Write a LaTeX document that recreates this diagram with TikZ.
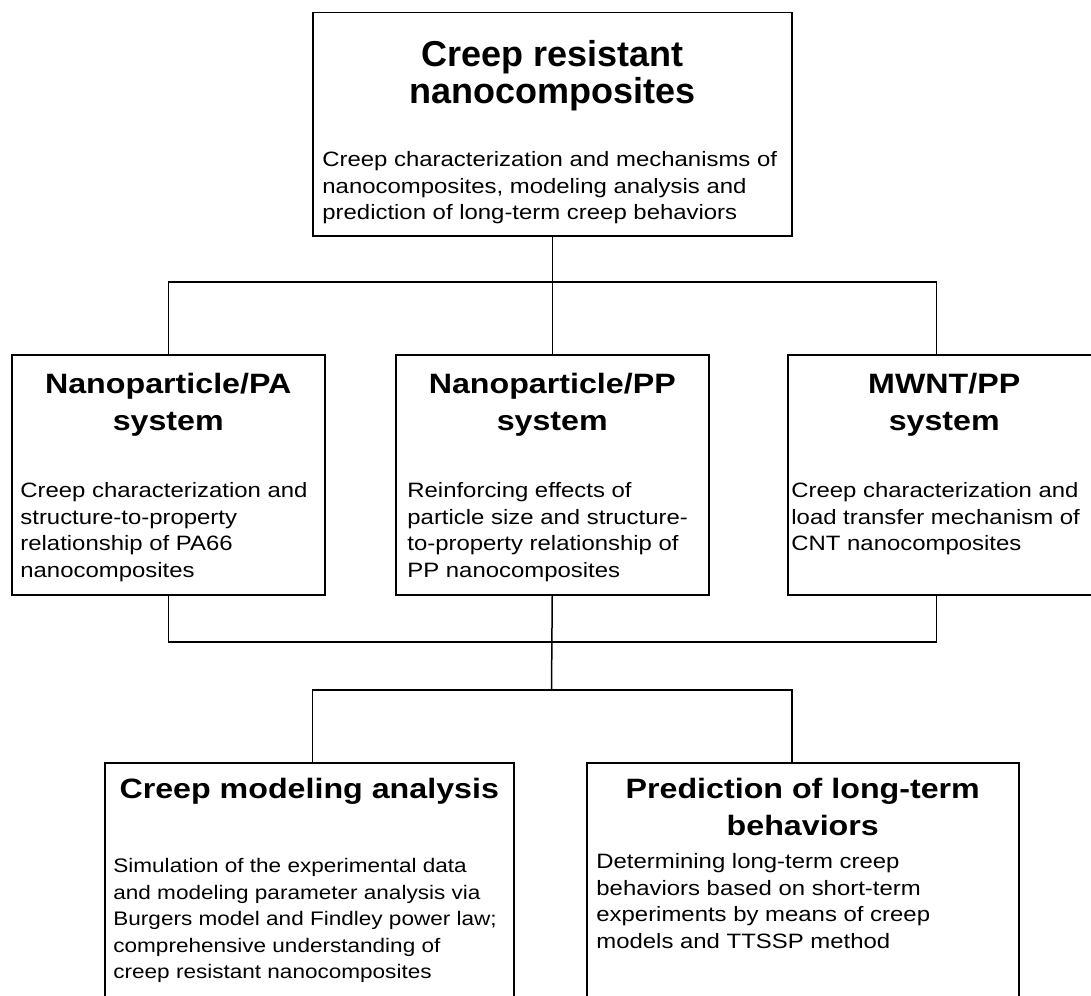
\documentclass[tikz,border=0pt]{standalone}
\usepackage{fontspec}
\setmainfont{Liberation Sans}[FakeStretch=1.15]
\newfontfamily\plainsans{Liberation Sans}
\usetikzlibrary{positioning}
\newcommand{\headfont}{\fontsize{14}{18.5}\selectfont\bfseries}
\newcommand{\bigheadfont}{\plainsans\fontsize{18}{18.7}\selectfont\bfseries}
\newcommand{\bodyfont}{\fontsize{10.4}{13.3}\selectfont}
\newcommand{\smallbodyfont}{\fontsize{9.8}{13.25}\selectfont}
\tikzset{
  box/.style={draw,line width=0.75pt,anchor=north west,inner sep=0pt,
    minimum width=156.5pt,minimum height=120pt},
  head/.style={font=\headfont,align=center,inner sep=0pt},
  bighead/.style={font=\bigheadfont,align=center,inner sep=0pt},
  body/.style={font=\bodyfont,align=left,inner sep=0pt},
  link/.style={line width=0.75pt}
}
\begin{document}
\begin{tikzpicture}[x=0.5pt,y=-0.5pt]
  \useasboundingbox (0,0) rectangle (1091,995);
  \clip (0,0) rectangle (1091,995);
  % boxes
  \node[box,minimum width=239.5pt,minimum height=111.5pt] (top) at (312,12) {};
  \node[box] (pa) at (11,354) {};
  \node[box] (pp) at (395,354) {};
  \node[box] (mw) at (787,354) {};
  \node[box,minimum width=204.5pt,minimum height=140pt] (model) at (104,762) {};
  \node[box,minimum width=216pt,minimum height=140pt] (predict) at (586,762) {};
  % texts
  \node[bighead,below=14pt of top.north] (topT) {Creep resistant\\nanocomposites};
  \node[body,below right=69.5pt and 5pt of top.north west] (topB)
    {Creep characterization and mechanisms of\\nanocomposites, modeling analysis and\\prediction of long-term creep behaviors};
  \node[head,below=9.5pt of pa.north] (paT) {Nanoparticle/PA\\system};
  \node[body,below right=64pt and 4.5pt of pa.north west] (paB)
    {Creep characterization and\\structure-to-property\\relationship of PA66\\nanocomposites};
  \node[head,below=9.5pt of pp.north] (ppT) {Nanoparticle/PP\\system};
  \node[body,below right=64pt and 6pt of pp.north west] (ppB)
    {Reinforcing effects of\\particle size and structure-\\to-property relationship of\\PP nanocomposites};
  \node[head,below=9.5pt of mw.north] (mwT) {MWNT/PP\\system};
  \node[body,below right=64pt and 2pt of mw.north west] (mwB)
    {Creep characterization and\\load transfer mechanism of\\CNT nanocomposites};
  \node[head,below=8pt of model.north] (modelT) {Creep modeling analysis};
  \node[body,font=\smallbodyfont,below right=48pt and 4.5pt of model.north west] (modelB)
    {Simulation of the experimental data\\and modeling parameter analysis via\\Burgers model and Findley power law;\\comprehensive understanding of\\creep resistant nanocomposites};
  \node[head,below=8pt of predict.north] (predictT) {Prediction of long-term\\behaviors};
  \node[body,below right=45.5pt and 5pt of predict.north west] (predictB)
    {Determining long-term creep\\behaviors based on short-term\\experiments by means of creep\\models and TTSSP method};
  % connectors
  \coordinate (bus1) at (551.5,282);
  \coordinate (bus2) at (551.5,642);
  \coordinate (bus3) at (551.5,690);
  \draw[link] (top.south) -- (pp.north);
  \draw[link] (pa.north) |- (bus1) -| ([xshift=-4pt]mw.north);
  \draw[link] (pa.south) |- (bus2) -| ([xshift=-4pt]mw.south);
  \draw[link] (pp.south) -- (bus3);
  \draw[link] ([xshift=1.5pt]model.north) |- (bus3) -| ([xshift=-5.5pt]predict.north);
\end{tikzpicture}
\end{document}
